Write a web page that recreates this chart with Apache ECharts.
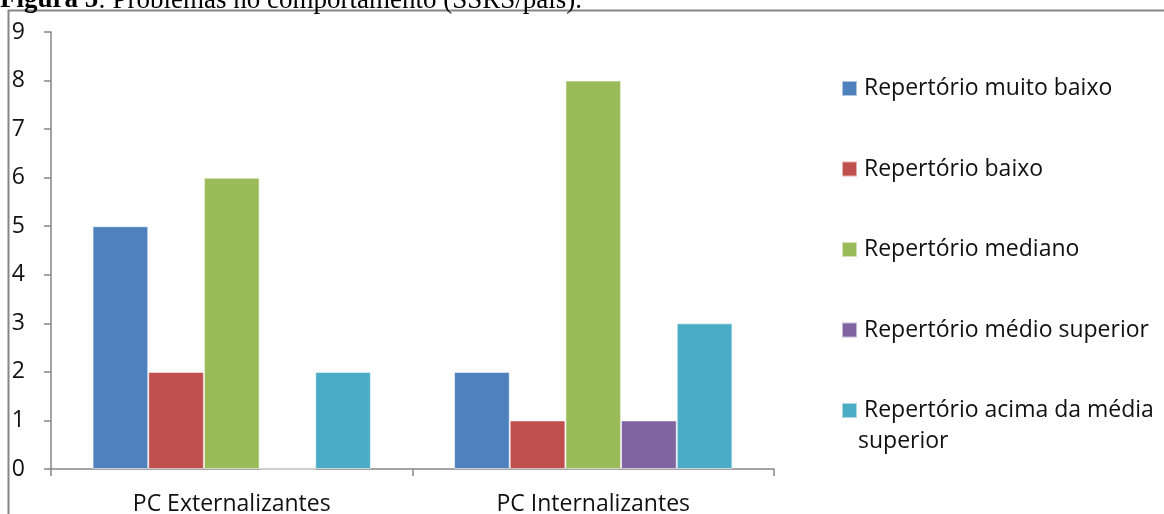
<!DOCTYPE html>
<html>
<head>
<meta charset="utf-8">
<script src="https://cdn.jsdelivr.net/npm/echarts@6/dist/echarts.min.js"></script>
<style>
  html, body { margin: 0; padding: 0; background: #fff; }
  #chart { width: 1164px; height: 514px; }
</style>
</head>
<body>
<div id="chart"></div>
<script>
// Behaviour problems by social-skills repertoire level (SSRS, parents' form)
const categories = ['PC Externalizantes', 'PC Internalizantes'];
const seriesNames = [
  'Repertório muito baixo',
  'Repertório baixo',
  'Repertório mediano',
  'Repertório médio superior',
  'Repertório acima da média'
];
const muitoBaixo = [5, 2];
const baixo = [2, 1];
const mediano = [6, 8];
const medioSuperior = [0, 1];
const acimaDaMedia = [2, 3];
const yTicks = [0, 1, 2, 3, 4, 5, 6, 7, 8, 9];

const values = [muitoBaixo, baixo, mediano, medioSuperior, acimaDaMedia];
const colors = ['#4F81BD', '#C0504D', '#9BBB59', '#8064A2', '#4BACC6'];
const axisGrey = '#868686';
const labelFont = '"Open Sans", "Noto Sans", sans-serif';
const labelSize = 23;

const chart = echarts.init(document.getElementById('chart'), null, { renderer: 'canvas' });

chart.setOption({
  animation: false,
  backgroundColor: '#ffffff',
  grid: { left: 51, right: 390, top: 32, bottom: 45, containLabel: false, outerBoundsMode: 'none' },
  xAxis: {
    type: 'category',
    data: categories,
    axisLine: { lineStyle: { color: axisGrey, width: 1.5 } },
    axisTick: { show: true, length: 7, lineStyle: { color: axisGrey, width: 1.5 } },
    axisLabel: { color: '#111', fontSize: labelSize, fontFamily: labelFont, margin: 24 }
  },
  yAxis: {
    type: 'value',
    min: yTicks[0],
    max: yTicks[yTicks.length - 1],
    interval: 1,
    splitLine: { show: false },
    axisLine: { show: true, lineStyle: { color: axisGrey, width: 1.5 } },
    axisTick: { show: true, length: 7, lineStyle: { color: axisGrey, width: 1.5 } },
    axisLabel: { color: '#111', fontSize: labelSize, fontFamily: labelFont, margin: 26 }
  },
  legend: {
    orient: 'vertical',
    left: 836,
    top: 71.5,
    itemWidth: 15,
    itemHeight: 15,
    itemGap: 56.5,
    icon: 'rect',
    textStyle: { color: '#111', fontSize: labelSize, fontFamily: labelFont, lineHeight: 24, padding: [0, 0, 0, 2] },
    data: seriesNames
  },
  series: seriesNames.map((name, i) => ({
    name: name,
    type: 'bar',
    data: values[i],
    barGap: '0%',
    barCategoryGap: '23%',
    itemStyle: { color: colors[i], borderColor: 'rgba(255,255,255,0.55)', borderWidth: 1 }
  })),
  graphic: [
    {
      type: 'rect',
      shape: { x: 8.5, y: 10.5, width: 1300, height: 700 },
      style: { fill: 'none', stroke: axisGrey, lineWidth: 2 },
      silent: true
    },
    {
      type: 'text',
      x: 0,
      y: 14,
      style: {
        text: '{b|Figura 5}: Problemas no comportamento (SSRS/pais).',
        font: '27px "Liberation Serif", "Times New Roman", serif',
        fill: '#000',
        verticalAlign: 'bottom',
        rich: {
          b: { fontWeight: 'bold', fontSize: 27, fontFamily: '"Liberation Serif", serif', fill: '#000' }
        }
      }
    },
    {
      type: 'text',
      x: 858,
      y: 441,
      style: {
        text: 'superior',
        font: labelSize + 'px "Open Sans", "Noto Sans", sans-serif',
        fill: '#111',
        verticalAlign: 'middle'
      }
    }
  ]
});
</script>
</body>
</html>
